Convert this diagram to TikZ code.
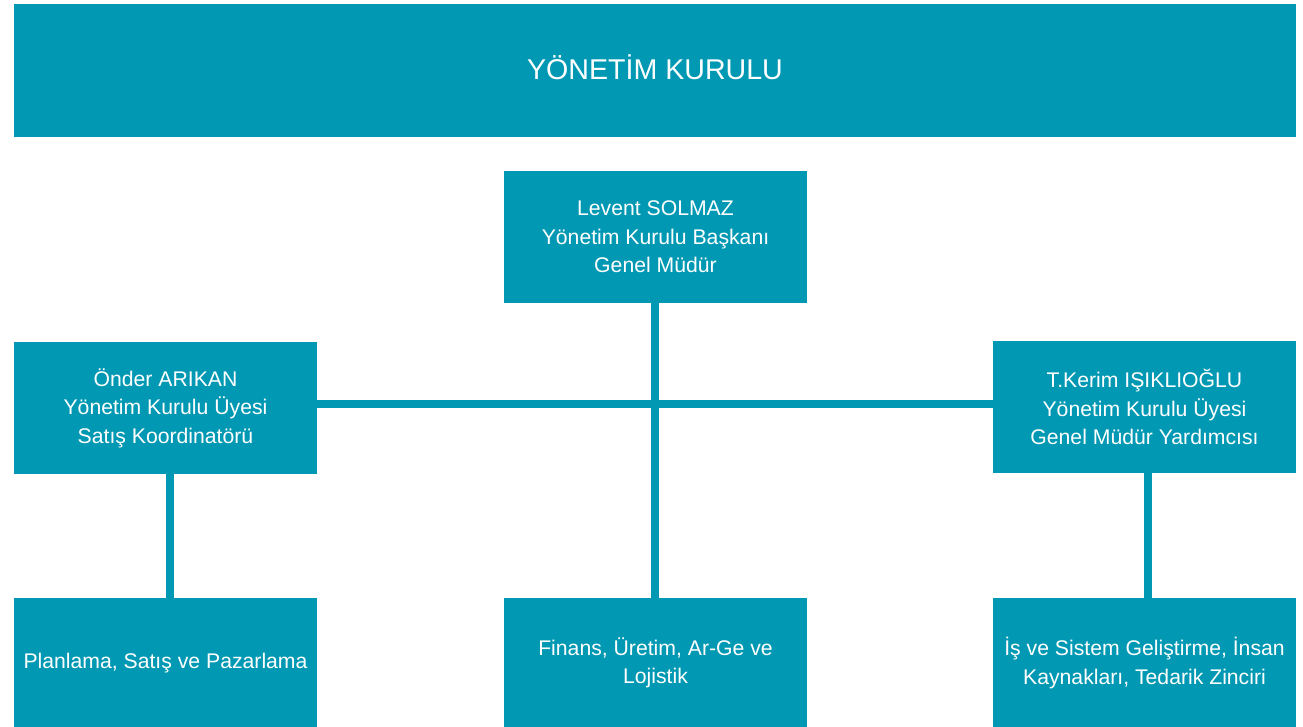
\documentclass[tikz,border=0pt]{standalone}
\usepackage{fontspec}
\setmainfont{Liberation Sans}
\definecolor{teal}{HTML}{0098B3}
\begin{document}
\begin{tikzpicture}[x=1pt,y=-1pt,
  box/.style={fill=teal, draw=none, inner sep=0pt, minimum width=303pt, minimum height=132pt,
    text=white, font=\fontsize{21.2}{28.5}\selectfont, align=center},
  link/.style={draw=teal, line width=8pt}]
\useasboundingbox (0,0) rectangle (1303,727);
\node[box, minimum width=1282pt, minimum height=133pt, text height=24pt, text depth=6pt, font=\fontsize{28.6}{32}\selectfont] (top) at (655,70.5) {YÖNETİM KURULU};
\node[box] (mid) at (655.5,237) {Levent SOLMAZ\\Yönetim Kurulu Başkanı\\Genel Müdür};
\node[box] (left) at (165.5,408) {Önder ARIKAN\\Yönetim Kurulu Üyesi\\Satış Koordinatörü};
\node[box] (right) at (1144.5,407) {T.Kerim IŞIKLIOĞLU\\Yönetim Kurulu Üyesi\\Genel Müdür Yardımcısı};
\node[box, minimum height=130pt] (bleft) at (165.5,663) {Planlama, Satış ve Pazarlama};
\node[box, minimum height=130pt] (bmid) at (655.5,663) {Finans, Üretim, Ar-Ge ve\\Lojistik};
\node[box, minimum height=130pt] (bright) at (1144.5,663) {İş ve Sistem Geliştirme, İnsan\\Kaynakları, Tedarik Zinciri};
\coordinate (hy) at (0,404);
\coordinate (vm) at (655,0);
\coordinate (vl) at (170,0);
\coordinate (vr) at (1148,0);
\draw[link] (left.east |- hy) -- (right.west |- hy);
\draw[link] (mid.south -| vm) -- (bmid.north -| vm);
\draw[link] (left.south -| vl) -- (bleft.north -| vl);
\draw[link] (right.south -| vr) -- (bright.north -| vr);
\end{tikzpicture}
\end{document}
